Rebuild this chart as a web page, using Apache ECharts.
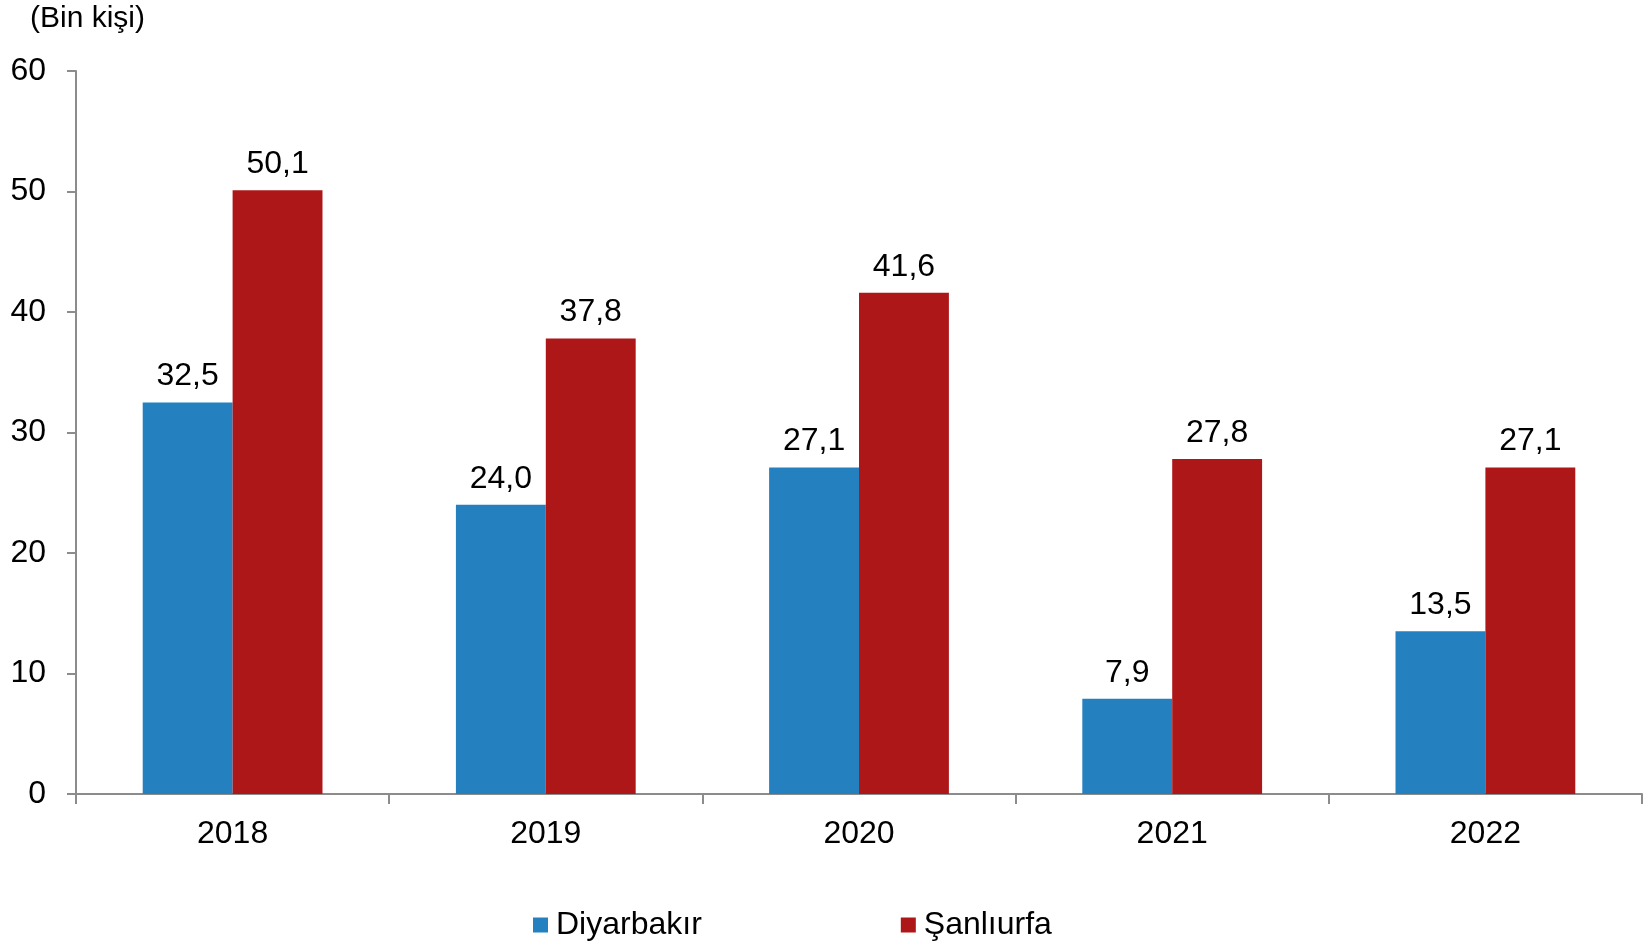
<!DOCTYPE html>
<html><head><meta charset="utf-8">
<script src="https://cdn.jsdelivr.net/npm/echarts@6/dist/echarts.min.js"></script>
<style>html,body{margin:0;padding:0;background:#fff}#c{width:1646px;height:944px}</style>
</head><body><div id="c"></div>
<script>
const categories = ['2018', '2019', '2020', '2021', '2022'];
const diyarbakir = [32.5, 24.0, 27.1, 7.9, 13.5];
const sanliurfa = [50.1, 37.8, 41.6, 27.8, 27.1];
const seriesNames = ['Diyarbakır', 'Şanlıurfa'];
const unitLabel = '(Bin kişi)';

const FONT = 'Liberation Sans, Arial, sans-serif';
const FS = 32;
const fmt = p => p.value.toFixed(1).replace('.', ',');
const chart = echarts.init(document.getElementById('c'));
const labelCfg = { show: true, position: 'top', distance: 10, formatter: fmt, color: '#000', fontSize: FS, fontFamily: FONT };
chart.setOption({
  animation: false,
  title: { text: unitLabel, left: 25, top: -1, textStyle: { fontSize: 30, fontWeight: 'normal', color: '#000', fontFamily: FONT } },
  legend: {
    data: seriesNames, left: 528, top: 904, itemWidth: 15, itemHeight: 15, itemGap: 199,
    icon: 'rect', textStyle: { fontSize: FS, color: '#000', fontFamily: FONT, padding: [0, 0, 0, 3] }
  },
  grid: { left: 76, right: 4, top: 71, bottom: 150 },
  xAxis: {
    type: 'category', data: categories,
    axisLine: { lineStyle: { color: '#8c8c8c', width: 2 } },
    axisTick: { show: true, length: 10, lineStyle: { color: '#8c8c8c', width: 2 } },
    axisLabel: { color: '#000', fontSize: FS, fontFamily: FONT, margin: 24 }
  },
  yAxis: {
    type: 'value', min: 0, max: 60, interval: 10,
    splitLine: { show: false },
    axisLine: { show: true, lineStyle: { color: '#8c8c8c', width: 2 } },
    axisTick: { show: true, length: 9, lineStyle: { color: '#8c8c8c', width: 2 } },
    axisLabel: { color: '#000', fontSize: FS, fontFamily: FONT, margin: 30 }
  },
  series: [
    { name: seriesNames[0], type: 'bar', data: diyarbakir, barWidth: '28.7%', barGap: '0%', itemStyle: { color: '#2580BF' }, label: labelCfg },
    { name: seriesNames[1], type: 'bar', data: sanliurfa, barWidth: '28.7%', barGap: '0%', itemStyle: { color: '#AE1718' }, label: labelCfg }
  ]
});
</script></body></html>
